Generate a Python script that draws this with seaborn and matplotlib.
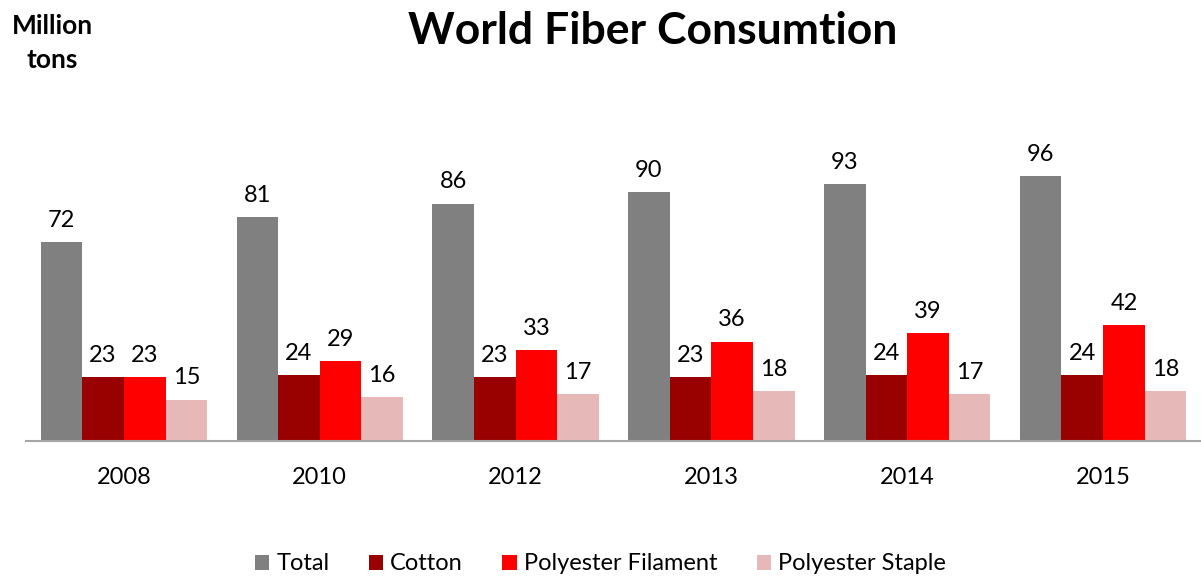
import pandas as pd
import seaborn as sns
import matplotlib.pyplot as plt

years = ['2008', '2010', '2012', '2013', '2014', '2015']
series = ['Total', 'Cotton', 'Polyester Filament', 'Polyester Staple']
total = [72, 81, 86, 90, 93, 96]
cotton = [23, 24, 23, 23, 24, 24]
pfy = [23, 29, 33, 36, 39, 42]
psf = [15, 16, 17, 18, 17, 18]
colors = ['#808080', '#990000', '#ff0000', '#e6b9b8']

df = pd.DataFrame({'Year': years * 4,
                   'Series': [s for s in series for _ in years],
                   'Value': total + cotton + pfy + psf})

sns.set_style('white')
plt.rcParams['font.family'] = ['Lato', 'DejaVu Sans']
plt.rcParams['text.color'] = 'black'
plt.rcParams['xtick.color'] = 'black'

fig = plt.figure(figsize=(12.01, 5.77), dpi=100)
ax = fig.add_axes([26 / 1201, 136 / 577, 1175 / 1201, 341 / 577])

sns.barplot(data=df, x='Year', y='Value', hue='Series', palette=colors,
            width=0.85, gap=0, saturation=1, linewidth=0, ax=ax, legend=True)

for c in ax.containers:
    ax.bar_label(c, fmt='%d', padding=8, fontsize=17, color='black')

ax.set_xlim(-0.5, 5.5)
ax.set_ylim(0, 123.5)
ax.set_xlabel('')
ax.set_ylabel('')
ax.set_yticks([])
ax.tick_params(axis='x', length=0, pad=19, labelsize=17, labelcolor='black')
for s in ['top', 'left', 'right']:
    ax.spines[s].set_visible(False)
ax.spines['bottom'].set_color('#a6a6a6')
ax.spines['bottom'].set_linewidth(1.5)

ax.legend(loc='center', bbox_to_anchor=(0.5, 13 / 577), bbox_transform=fig.transFigure,
          ncol=4, frameon=False, fontsize=17, handlelength=0.6, handleheight=0.6,
          handletextpad=0.3, columnspacing=1.67, labelcolor='black')

fig.text(653 / 1201, 1 - 31 / 577, 'World Fiber Consumtion', ha='center', va='center',
         fontsize=32, fontweight='bold', color='black')
fig.text(52 / 1201, 1 - 43 / 577, 'Million\ntons', ha='center', va='center',
         fontsize=19, fontweight='bold', linespacing=1.45, color='black')

fig.savefig('out.png', dpi=100)
